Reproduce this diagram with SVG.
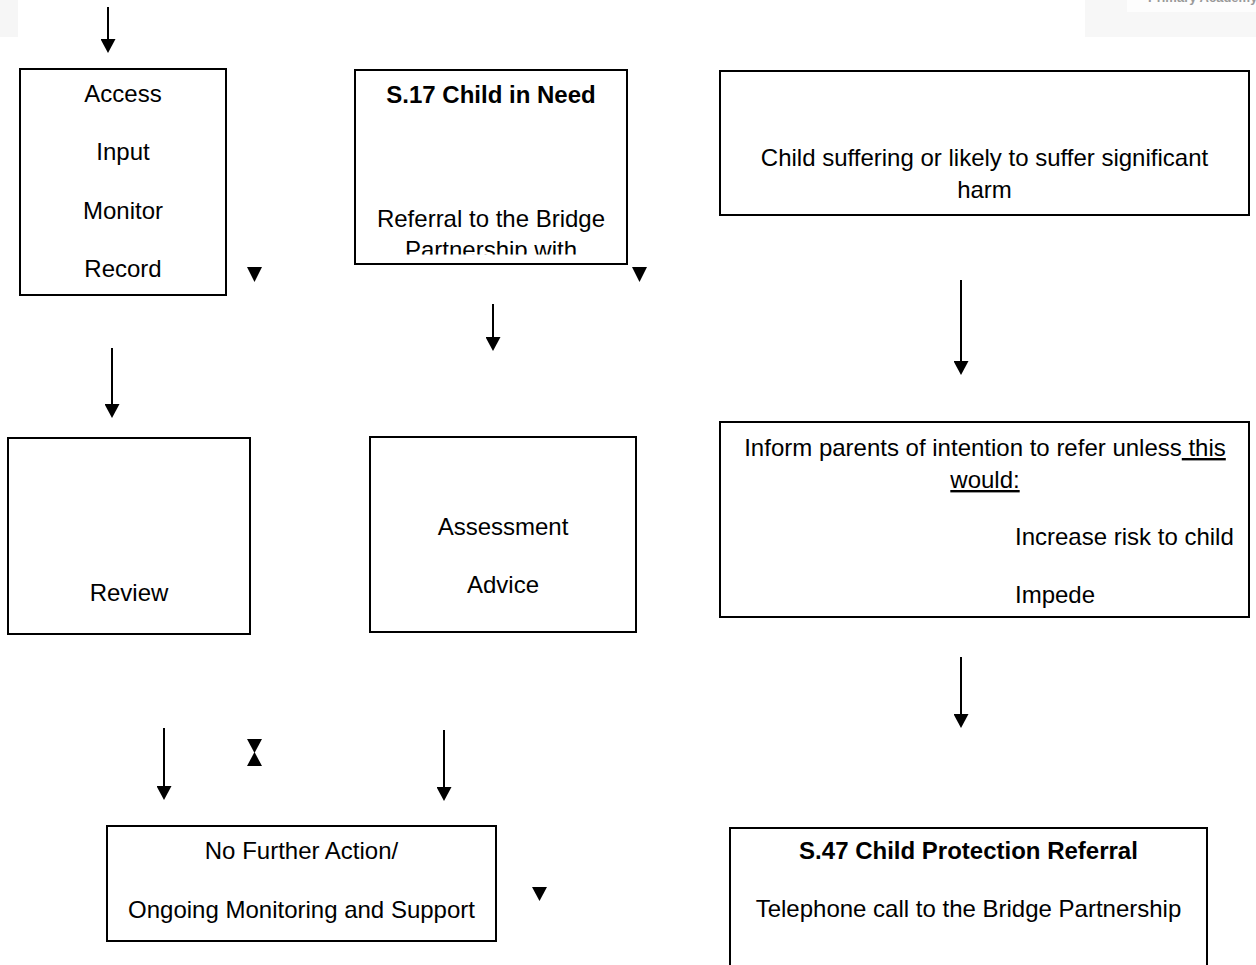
<svg xmlns="http://www.w3.org/2000/svg" width="1256" height="965" viewBox="0 0 1256 965">
  <style>
    .box { fill: #ffffff; stroke: #000000; stroke-width: 2; }
    .t { font-family: "Liberation Sans", Arial, sans-serif; font-size: 24px; fill: #000000; }
    .c { text-anchor: middle; }
    .b { font-weight: bold; }
    .u { text-decoration: underline; }
    .shaft { stroke: #000000; stroke-width: 2; fill: none; }
    .head { fill: #000000; stroke: none; }
    .logo { font-family: "Liberation Sans", Arial, sans-serif; font-size: 13px; font-weight: bold; fill: #9a9a9a; }
  </style>
  <defs>
    <marker id="arrow" viewBox="0 0 14 15" refX="4" refY="7.5" markerWidth="14" markerHeight="15" markerUnits="userSpaceOnUse" orient="auto">
      <path d="M0,0 L14,7.5 L0,15 z" fill="#000000"/>
    </marker>
    <clipPath id="clipS17">
      <rect x="356" y="71" width="270" height="183.5"/>
    </clipPath>
  </defs>

  <rect width="1256" height="965" fill="#ffffff"/>

  <!-- faint page header remnants -->
  <g id="header">
    <rect x="0" y="0" width="18" height="37" fill="#f6f6f6"/>
    <rect x="1085" y="0" width="171" height="37" fill="#f7f7f7"/>
    <rect x="1127" y="0" width="129" height="12" fill="#fdfdfd"/>
    <text class="logo" x="1148" y="2">Primary Academy</text>
  </g>

  <g id="connectors">
    <line class="shaft" x1="108" y1="7" x2="108" y2="43" marker-end="url(#arrow)"/>
    <line class="shaft" x1="112" y1="348" x2="112" y2="408" marker-end="url(#arrow)"/>
    <line class="shaft" x1="493" y1="304" x2="493" y2="341" marker-end="url(#arrow)"/>
    <line class="shaft" x1="961" y1="280" x2="961" y2="365" marker-end="url(#arrow)"/>
    <line class="shaft" x1="961" y1="657" x2="961" y2="718" marker-end="url(#arrow)"/>
    <line class="shaft" x1="164" y1="728" x2="164" y2="790" marker-end="url(#arrow)"/>
    <line class="shaft" x1="444" y1="730" x2="444" y2="791" marker-end="url(#arrow)"/>
    <polygon class="head" points="247,267 262,267 254.5,282"/>
    <polygon class="head" points="632,267 647,267 639.5,282"/>
    <polygon class="head" points="532,887 547,887 539.5,901"/>
    <polygon class="head" points="247,739 262,739 254.5,753"/>
    <polygon class="head" points="247,766 262,766 254.5,752"/>
  </g>

  <g id="node-access">
    <rect class="box" x="20" y="69" width="206" height="226"/>
    <text class="t c" x="123" y="102">Access</text>
    <text class="t c" x="123" y="160">Input</text>
    <text class="t c" x="123" y="219">Monitor</text>
    <text class="t c" x="123" y="277">Record</text>
  </g>

  <g id="node-s17">
    <rect class="box" x="355" y="70" width="272" height="194"/>
    <text class="t c b" x="491" y="103">S.17 Child in Need</text>
    <g clip-path="url(#clipS17)">
      <text class="t c" x="491" y="227">Referral to the Bridge</text>
      <text class="t c" x="491" y="258">Partnership with</text>
    </g>
  </g>

  <g id="node-harm">
    <rect class="box" x="720" y="71" width="529" height="144"/>
    <text class="t c" x="984.5" y="166">Child suffering or likely to suffer significant</text>
    <text class="t c" x="984.5" y="198">harm</text>
  </g>

  <g id="node-review">
    <rect class="box" x="8" y="438" width="242" height="196"/>
    <text class="t c" x="129" y="601">Review</text>
  </g>

  <g id="node-assessment">
    <rect class="box" x="370" y="437" width="266" height="195"/>
    <text class="t c" x="503" y="535">Assessment</text>
    <text class="t c" x="503" y="593">Advice</text>
  </g>

  <g id="node-inform">
    <rect class="box" x="720" y="422" width="529" height="195"/>
    <text class="t c" x="985" y="456" xml:space="preserve">Inform parents of intention to refer unless<tspan class="u"> this</tspan></text>
    <text class="t c u" x="985" y="488">would:</text>
    <text class="t" x="1015" y="545">Increase risk to child</text>
    <text class="t" x="1015" y="603">Impede</text>
  </g>

  <g id="node-nfa">
    <rect class="box" x="107" y="826" width="389" height="115"/>
    <text class="t c" x="301.5" y="859">No Further Action/</text>
    <text class="t c" x="301.5" y="918">Ongoing Monitoring and Support</text>
  </g>

  <g id="node-s47">
    <rect class="box" x="730" y="828" width="477" height="160"/>
    <text class="t c b" x="968.5" y="859">S.47 Child Protection Referral</text>
    <text class="t c" x="968.5" y="917">Telephone call to the Bridge Partnership</text>
  </g>
</svg>
